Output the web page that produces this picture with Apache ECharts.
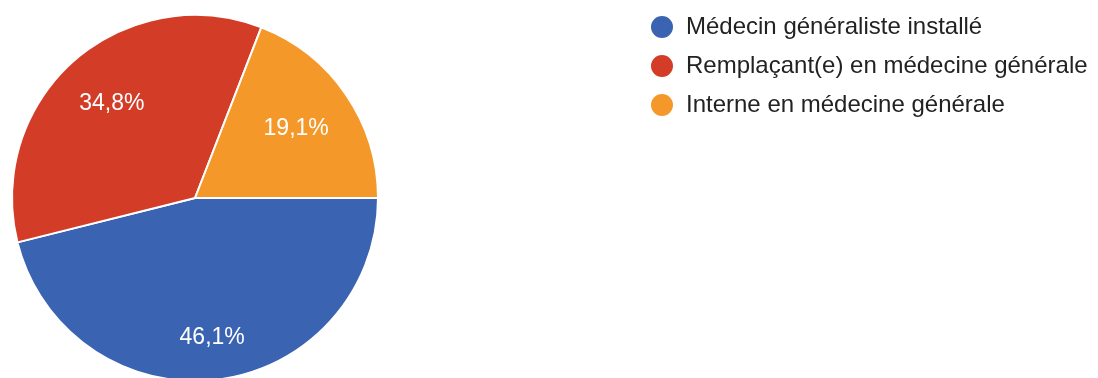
<!DOCTYPE html>
<html>
<head>
<meta charset="utf-8">
<style>
  html, body { margin: 0; padding: 0; background: #ffffff; }
  #chart { width: 1098px; height: 378px; }
</style>
<script src="https://cdn.jsdelivr.net/npm/echarts@6/dist/echarts.min.js"></script>
</head>
<body>
<div id="chart"></div>
<script>
// Répartition des répondants par statut
const categories = [
  'Médecin généraliste installé',
  'Remplaçant(e) en médecine générale',
  'Interne en médecine générale'
];
const percentages = [46.1, 34.8, 19.1];
const colors = ['#3a63b2', '#d33c27', '#f4982a'];

const pieCenter = [195, 198];
const pieRadius = 183;
// gap kept between a value label's box and the rim of the pie
const labelRimGap = 27;

const chart = echarts.init(document.getElementById('chart'), null, { renderer: 'canvas' });

chart.setOption({
  animation: false,
  backgroundColor: '#ffffff',
  color: colors,
  legend: {
    orient: 'vertical',
    left: 644,
    top: 9,
    icon: 'circle',
    itemWidth: 24,
    itemHeight: 24,
    itemGap: 13,
    textStyle: {
      fontFamily: 'Liberation Sans, Arial, sans-serif',
      fontSize: 24,
      color: '#222222',
      padding: [0, 0, 0, 7]
    },
    data: categories
  },
  series: [{
    type: 'pie',
    center: pieCenter,
    radius: pieRadius,
    startAngle: 0,
    clockwise: true,
    avoidLabelOverlap: false,
    itemStyle: { borderColor: '#ffffff', borderWidth: 2 },
    label: {
      show: true,
      position: 'inside',
      color: '#ffffff',
      fontFamily: 'Liberation Sans, Arial, sans-serif',
      fontSize: 23,
      formatter: p => p.value.toFixed(1).replace('.', ',') + '%'
    },
    labelLine: { show: false },
    emphasis: { disabled: true },
    // move each label along its slice's bisector so its box sits just inside the rim
    labelLayout: function (params) {
      const r = params.labelRect;
      const cx = r.x + r.width / 2;
      const cy = r.y + r.height / 2;
      const dx = cx - pieCenter[0];
      const dy = cy - pieCenter[1];
      const len = Math.sqrt(dx * dx + dy * dy) || 1;
      const ux = dx / len, uy = dy / len;
      const extent = Math.abs(ux) * r.width / 2 + Math.abs(uy) * r.height / 2;
      const d = pieRadius - labelRimGap - extent;
      return {
        x: pieCenter[0] + ux * d,
        y: pieCenter[1] + uy * d,
        align: 'center',
        verticalAlign: 'middle'
      };
    },
    data: categories.map((name, i) => ({ name, value: percentages[i] }))
  }]
});
</script>
</body>
</html>
